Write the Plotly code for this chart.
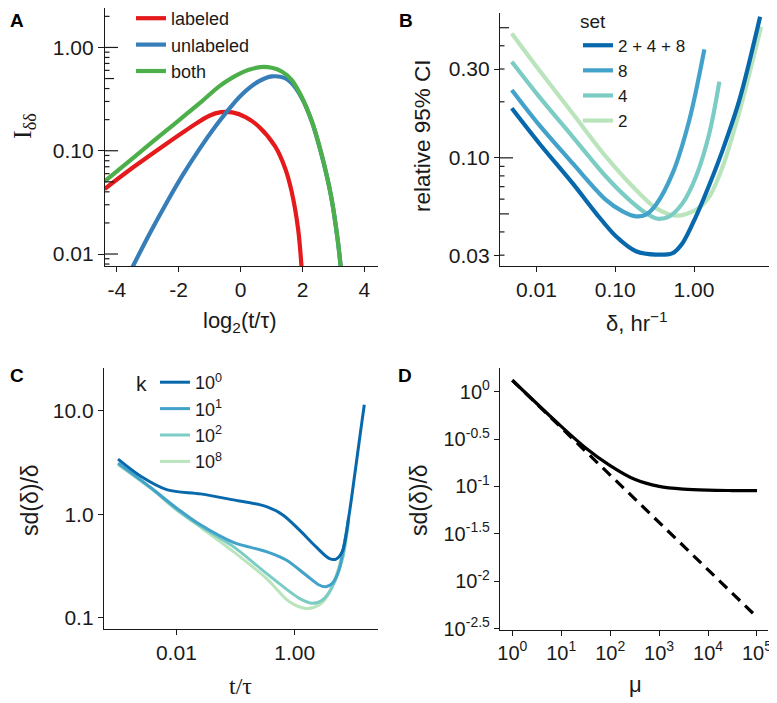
import plotly.graph_objects as go

W, H = 777, 703
OFF = 8  # the page body margin shifts the figure by 8px; layout is given in window pixels
FONT = "Liberation Sans, Arial, sans-serif"
SERIF = "Liberation Serif, Times New Roman, serif"
INK = "#1a1a1a"

# ---------------- Panel A data (x = log2(t/tau), y = I_dd) ----------------
A_X_LABELED = [-4.394, -3.457, -2.394, -1.543, -1.011, -0.638, -0.266, 0.160, 0.585, 1.117, 1.436, 1.649, 1.862, 1.968]
A_Y_LABELED = [0.0426, 0.0695, 0.117, 0.1746, 0.2183, 0.2366, 0.2349, 0.2117, 0.1719, 0.1101, 0.0680, 0.0404, 0.0172, 0.0076]
A_X_UNLABELED = [-3.50, -2.926, -2.394, -1.862, -1.330, -0.798, -0.479, 0.011, 0.585, 1.011, 1.436, 1.649, 1.968, 2.287, 2.606, 2.926, 3.138, 3.245]
A_Y_UNLABELED = [0.0074, 0.01597, 0.0312, 0.0586, 0.1038, 0.1746, 0.2316, 0.3430, 0.4690, 0.524, 0.505, 0.451, 0.328, 0.197, 0.094, 0.036, 0.0137, 0.0070]
A_X_BOTH = [-4.394, -3.457, -2.394, -1.330, -0.691, -0.266, 0.266, 0.638, 1.011, 1.330, 1.649, 1.968, 2.287, 2.606, 2.926, 3.138, 3.245]
A_Y_BOTH = [0.0505, 0.0859, 0.1574, 0.2871, 0.420, 0.510, 0.607, 0.6452, 0.6357, 0.5857, 0.4865, 0.3355, 0.1995, 0.0949, 0.0362, 0.01376, 0.00705]
A_XTICKS = [-4, -2, 0, 2, 4]
A_XTICKTEXT = ["-4", "-2", "0", "2", "4"]
A_YTICKS = [0.01, 0.1, 1.0]
A_YTICKTEXT = ["0.01", "0.10", "1.00"]

# ---------------- Panel B data (delta, relative 95% CI) ----------------
B_X_SET2 = [0.00486, 0.01081, 0.02868, 0.0761, 0.2018, 0.3288, 0.5904, 1.060, 1.566, 2.314, 3.771, 7.107]
B_Y_SET2 = [0.4658, 0.2962, 0.1735, 0.1016, 0.0646, 0.0537, 0.0489, 0.0526, 0.0620, 0.0898, 0.1771, 0.5058]
B_X_SET4 = [0.00486, 0.01081, 0.02868, 0.0761, 0.1507, 0.2453, 0.3452, 0.4858, 0.7176, 1.060, 1.566, 2.099]
B_Y_SET4 = [0.3283, 0.2132, 0.1301, 0.0794, 0.0595, 0.0505, 0.0471, 0.0485, 0.0571, 0.0794, 0.1356, 0.2565]
B_X_SET8 = [0.00486, 0.01081, 0.02868, 0.0761, 0.124, 0.1831, 0.2453, 0.3288, 0.5356, 0.8724, 1.353]
B_Y_SET8 = [0.2314, 0.1502, 0.0936, 0.0595, 0.0516, 0.0485, 0.0495, 0.0560, 0.0828, 0.1598, 0.3824]
B_X_ALL = [0.00486, 0.01081, 0.02868, 0.05677, 0.1020, 0.1831, 0.3288, 0.5356, 0.7176, 1.060, 1.566, 2.314, 3.771, 6.902]
B_Y_ALL = [0.1845, 0.1198, 0.0731, 0.0505, 0.0379, 0.0315, 0.0302, 0.0308, 0.0349, 0.0485, 0.0717, 0.1104, 0.2046, 0.5723]
B_XTICKS = [0.01, 0.1, 1.0]
B_XTICKTEXT = ["0.01", "0.10", "1.00"]
B_YTICKS = [0.03, 0.1, 0.3]
B_YTICKTEXT = ["0.03", "0.10", "0.30"]

# ---------------- Panel C data (t/tau, sd(delta)/delta) ----------------
C_X_K0 = [0.001033, 0.002535, 0.00707, 0.02551, 0.09204, 0.3318, 0.6300, 1.197, 2.272, 3.796, 4.907, 6.341, 8.198, 10.59, 12.84, 14.98]
C_Y_K0 = [3.406, 2.315, 1.720, 1.573, 1.376, 1.186, 0.985, 0.7054, 0.4865, 0.3751, 0.3668, 0.4352, 0.949, 2.686, 6.08, 11.43]
C_X_K1 = [0.001033, 0.003724, 0.01, 0.02551, 0.09204, 0.3318, 0.7165, 1.547, 2.584, 3.340, 4.316, 5.578, 7.210, 8.198]
C_Y_K1 = [3.116, 1.800, 1.150, 0.790, 0.535, 0.4352, 0.3614, 0.2587, 0.2071, 0.1995, 0.2149, 0.2892, 0.6077, 0.94]
C_X_K2 = [0.001033, 0.003724, 0.01, 0.02551, 0.09204, 0.3318, 1.197, 1.999, 2.938, 4.316, 6.341, 8.198]
C_Y_K2 = [3.080, 1.785, 1.118, 0.765, 0.4865, 0.2685, 0.1539, 0.1376, 0.1483, 0.1995, 0.3614, 0.90]
C_X_K8 = [0.001033, 0.003724, 0.01, 0.02551, 0.09204, 0.3318, 0.8147, 1.547, 2.584, 3.796, 5.578, 8.198]
C_Y_K8 = [3.002, 1.765, 1.101, 0.750, 0.4352, 0.2402, 0.1428, 0.1231, 0.1326, 0.1719, 0.3116, 0.85]
C_XTICKS = [0.01, 1.0]
C_XTICKTEXT = ["0.01", "1.00"]
C_YTICKS = [0.1, 1.0, 10.0]
C_YTICKTEXT = ["0.1", "1.0", "10.0"]

# ---------------- Panel D data (mu, sd(delta)/delta) ----------------
D_MU = [1, 3.162, 10, 31.62, 100, 316.2, 1000, 3162, 10000, 31623, 100000]
D_SD = [1.32, 0.75, 0.43, 0.255, 0.166, 0.119, 0.100, 0.0935, 0.0912, 0.0905, 0.0902]
D_MU_ASYMPTOTE = [1, 100000]
D_SD_ASYMPTOTE = [1.32, 0.00417]
D_XTICKS = [1, 10, 100, 1000, 10000, 100000]
D_XTICKTEXT = ["10<sup>0</sup>", "10<sup>1</sup>", "10<sup>2</sup>", "10<sup>3</sup>", "10<sup>4</sup>", "10<sup>5</sup>"]
D_YTICKS = [10 ** 0, 10 ** -0.5, 10 ** -1, 10 ** -1.5, 10 ** -2, 10 ** -2.5]
D_YTICKTEXT = ["10<sup>0</sup>", "10<sup>-0.5</sup>", "10<sup>-1</sup>", "10<sup>-1.5</sup>", "10<sup>-2</sup>", "10<sup>-2.5</sup>"]

GNBU = {"dark": "#0868AC", "mid": "#43A2CA", "light": "#7BCCC4", "pale": "#BAE4BC"}


def fx(p):
    return (p - OFF) / W


def fy(p):
    return 1 - (p - OFF) / H


fig = go.Figure()

def line(x, y, name, color, width, xa, ya, legend=None, dash=None, smooth=0.9):
    fig.add_trace(go.Scatter(
        x=x, y=y, mode="lines", name=name,
        line=dict(color=color, width=width, shape="spline", smoothing=smooth, dash=dash),
        xaxis=xa, yaxis=ya, showlegend=legend is not None,
        legend=legend if legend else "legend", hoverinfo="skip"))

# Panel A
line(A_X_LABELED, A_Y_LABELED, "labeled", "#E41A1C", 4.2, "x", "y", "legend")
line(A_X_UNLABELED, A_Y_UNLABELED, "unlabeled", "#377EB8", 4.2, "x", "y", "legend")
line(A_X_BOTH, A_Y_BOTH, "both", "#4DAF4A", 4.2, "x", "y", "legend")

# Panel B (drawn light to dark so the combined set sits on top)
line(B_X_SET2, B_Y_SET2, "2", GNBU["pale"], 4.2, "x2", "y2", "legend2")
line(B_X_SET4, B_Y_SET4, "4", GNBU["light"], 4.2, "x2", "y2", "legend2")
line(B_X_SET8, B_Y_SET8, "8", GNBU["mid"], 4.2, "x2", "y2", "legend2")
line(B_X_ALL, B_Y_ALL, "2 + 4 + 8", GNBU["dark"], 4.2, "x2", "y2", "legend2")

# Panel C
line(C_X_K8, C_Y_K8, "10<sup>8</sup>", GNBU["pale"], 3.0, "x3", "y3", "legend3")
line(C_X_K2, C_Y_K2, "10<sup>2</sup>", GNBU["light"], 3.0, "x3", "y3", "legend3")
line(C_X_K1, C_Y_K1, "10<sup>1</sup>", GNBU["mid"], 3.0, "x3", "y3", "legend3")
line(C_X_K0, C_Y_K0, "10<sup>0</sup>", GNBU["dark"], 3.0, "x3", "y3", "legend3")

# Panel D
line(D_MU_ASYMPTOTE, D_SD_ASYMPTOTE, "asymptote", "black", 3.2, "x4", "y4", dash="11px,7px")
line(D_MU, D_SD, "sd", "black", 3.2, "x4", "y4")


def axis(size=21, **kw):
    d = dict(showline=True, linecolor=INK, linewidth=1.3, ticks="outside", ticklen=5,
             tickwidth=1.3, tickcolor=INK, showgrid=False, zeroline=False,
             tickmode="array", tickfont=dict(family=FONT, size=size, color=INK),
             fixedrange=True, automargin=False)
    d.update(kw)
    return d

PA_X = [fx(105), fx(378)]; PA_Y = [fy(266), 1.0]
PB_X = [fx(500), fx(772)]; PB_Y = [fy(266), fy(13)]
PC_X = [fx(104), fx(378)]; PC_Y = [fy(629), fy(368)]
PD_X = [fx(500), fx(768)]; PD_Y = [fy(629.5), fy(368)]

LEG_FONT = dict(family=FONT, size=18, color=INK)

fig.update_layout(
    width=W, height=H, autosize=False,
    margin=dict(l=0, r=0, t=0, b=0, pad=0, autoexpand=False),
    paper_bgcolor="white", plot_bgcolor="white",
    font=dict(family=FONT, color=INK),
    xaxis=axis(domain=PA_X, range=[-4.38, 4.44], tickvals=A_XTICKS, ticktext=A_XTICKTEXT, anchor="y"),
    yaxis=axis(domain=PA_Y, type="log", range=[-2.116, 0.382], tickvals=A_YTICKS, ticktext=A_YTICKTEXT, ticklen=6, anchor="x"),
    xaxis2=axis(domain=PB_X, type="log", range=[-2.463, 0.99], tickvals=B_XTICKS, ticktext=B_XTICKTEXT, anchor="y2"),
    yaxis2=axis(domain=PB_Y, type="log", range=[-1.581, -0.222], tickvals=B_YTICKS, ticktext=B_YTICKTEXT, anchor="x2"),
    xaxis3=axis(domain=PC_X, type="log", range=[-3.223, 1.407], tickvals=C_XTICKS, ticktext=C_XTICKTEXT, anchor="y3"),
    yaxis3=axis(domain=PC_Y, type="log", range=[-1.109, 1.413], tickvals=C_YTICKS, ticktext=C_YTICKTEXT, anchor="x3"),
    xaxis4=axis(size=20, domain=PD_X, type="log", range=[-0.251, 5.225], tickvals=D_XTICKS, ticktext=D_XTICKTEXT, anchor="y4"),
    yaxis4=axis(size=20, domain=PD_Y, type="log", range=[-2.51, 0.25], tickvals=D_YTICKS, ticktext=D_YTICKTEXT, anchor="x4"),
    legend=dict(x=fx(131), y=fy(0), xanchor="left", yanchor="top", bgcolor="rgba(0,0,0,0)",
                font=LEG_FONT, tracegroupgap=0, itemwidth=30,
                itemclick=False, itemdoubleclick=False),
    legend2=dict(x=fx(578), y=fy(3), xanchor="left", yanchor="top", bgcolor="rgba(0,0,0,0)",
                 font=dict(family=FONT, size=17, color=INK), tracegroupgap=0, itemwidth=30,
                 traceorder="reversed", title=dict(text="set", side="top", font=dict(family=FONT, size=19, color=INK)),
                 itemclick=False, itemdoubleclick=False),
    legend3=dict(x=fx(134), y=fy(364), xanchor="left", yanchor="top", bgcolor="rgba(0,0,0,0)",
                 font=LEG_FONT, tracegroupgap=0, itemwidth=30,
                 traceorder="reversed", title=dict(text="k", side="left", font=dict(family=FONT, size=21, color=INK)),
                 itemclick=False, itemdoubleclick=False),
)

# ggplot-style annotation_logticks on the left of panels A and B (axis decoration)
def logticks(xref, yref, lo, hi, vmin, vmax):
    decade = 10.0 ** lo
    while decade <= 10.0 ** hi:
        for m in range(1, 10):
            v = m * decade
            if vmin <= v <= vmax:
                length = 13 if m == 1 else (9 if m == 5 else 4.5)
                fig.add_shape(type="line", xref=xref, yref=yref, xsizemode="pixel", xanchor=0,
                              x0=0, x1=length, y0=v, y1=v, layer="above",
                              line=dict(color=INK, width=1.2))
        decade *= 10

logticks("x domain", "y", -3, 1, 10 ** -2.116, 10 ** 0.382)
logticks("x2 domain", "y2", -2, 0, 10 ** -1.581, 10 ** -0.222)

def ann(text, x, y, size, family=FONT, angle=0, bold=False, xanchor="center", yanchor="middle"):
    fig.add_annotation(text=f"<b>{text}</b>" if bold else text, x=fx(x), y=fy(y),
                       xref="paper", yref="paper", showarrow=False, textangle=angle,
                       xanchor=xanchor, yanchor=yanchor,
                       font=dict(family=family, size=size, color="black" if bold else INK))

# panel letters (kept just inside the visible page)
ann("A", 8, 8, 19, bold=True, xanchor="left", yanchor="top")
ann("B", 397, 8, 19, bold=True, xanchor="left", yanchor="top")
ann("C", 8, 375, 19, bold=True, xanchor="left")
ann("D", 405, 375, 19, bold=True)

# axis titles
ann("I<sub>δδ</sub>", 24, 126, 26, family=SERIF, angle=-90)
ann("log<sub>2</sub>(t/τ)", 240, 322, 22)
ann("relative 95% CI", 423, 136, 22.5, angle=-90)
ann("δ, hr<sup>−1</sup>", 637, 322, 22)
ann("sd(δ)/δ", 30, 500, 23, angle=-90)
ann("t/τ", 240, 686, 24, family=SERIF)
ann("sd(δ)/δ", 419, 500, 23, angle=-90)
ann("μ", 635, 684, 22)

fig.write_html("out.html")
